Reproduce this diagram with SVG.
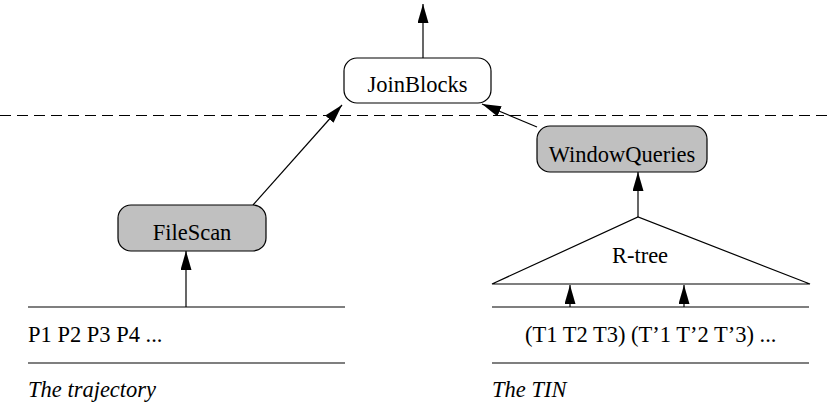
<svg xmlns="http://www.w3.org/2000/svg" width="828" height="405" viewBox="0 0 828 405">
<style>
text{font-family:"Liberation Serif","Times New Roman",serif;font-size:22.5px;fill:#000}
.it{font-style:italic}
.box{stroke:#000;stroke-width:1.2}
.g{fill:#c0c0c0}
.w{fill:#fff}
.ln{stroke:#000;stroke-width:1.2;fill:none}
</style>
<defs>
<marker id="ah" markerUnits="userSpaceOnUse" viewBox="0 0 19 11" refX="19" refY="5.5" markerWidth="19" markerHeight="11" orient="auto">
<path d="M0,0 L19,5.5 L0,11 Z" fill="#000"/>
</marker>
</defs>
<rect width="828" height="405" fill="#fff"/>
<line x1="0" y1="115.5" x2="828" y2="115.5" stroke="#000" stroke-width="1.2" stroke-dasharray="11,6"/>
<g id="connectors">
<line class="ln" x1="423" y1="58" x2="423" y2="4" marker-end="url(#ah)"/>
<line class="ln" x1="253" y1="205" x2="342" y2="105" marker-end="url(#ah)"/>
<line class="ln" x1="537" y1="127" x2="482" y2="104" marker-end="url(#ah)"/>
<line class="ln" x1="186" y1="307" x2="186" y2="251" marker-end="url(#ah)"/>
<line class="ln" x1="638" y1="217" x2="638" y2="172" marker-end="url(#ah)"/>
<line class="ln" x1="570" y1="307" x2="570" y2="285" marker-end="url(#ah)"/>
<line class="ln" x1="684" y1="307" x2="684" y2="285" marker-end="url(#ah)"/>
</g>
<g id="joinblocks">
<rect class="box w" x="344" y="58" width="147" height="45" rx="13"/>
<text x="417.5" y="92" text-anchor="middle">JoinBlocks</text>
</g>
<g id="windowqueries">
<rect class="box g" x="537" y="126" width="170" height="46" rx="13"/>
<text x="622" y="162" text-anchor="middle">WindowQueries</text>
</g>
<g id="filescan">
<rect class="box g" x="118" y="205" width="148" height="46" rx="13"/>
<text x="192" y="240" text-anchor="middle">FileScan</text>
</g>
<g id="rtree">
<path class="ln" d="M492,284 L638,217 L810,284 Z"/>
<text x="640" y="263" text-anchor="middle">R-tree</text>
</g>
<g id="trajectory">
<line class="ln" x1="28" y1="307" x2="345" y2="307"/>
<line class="ln" x1="28" y1="363" x2="345" y2="363"/>
<text x="28" y="342">P1 P2 P3 P4 ...</text>
<text class="it" x="28" y="397">The trajectory</text>
</g>
<g id="tin">
<line class="ln" x1="492" y1="307" x2="809" y2="307"/>
<line class="ln" x1="492" y1="363" x2="809" y2="363"/>
<text x="525" y="342">(T1 T2 T3) (T’1 T’2 T’3) ...</text>
<text class="it" x="492" y="397">The TIN</text>
</g>
</svg>
